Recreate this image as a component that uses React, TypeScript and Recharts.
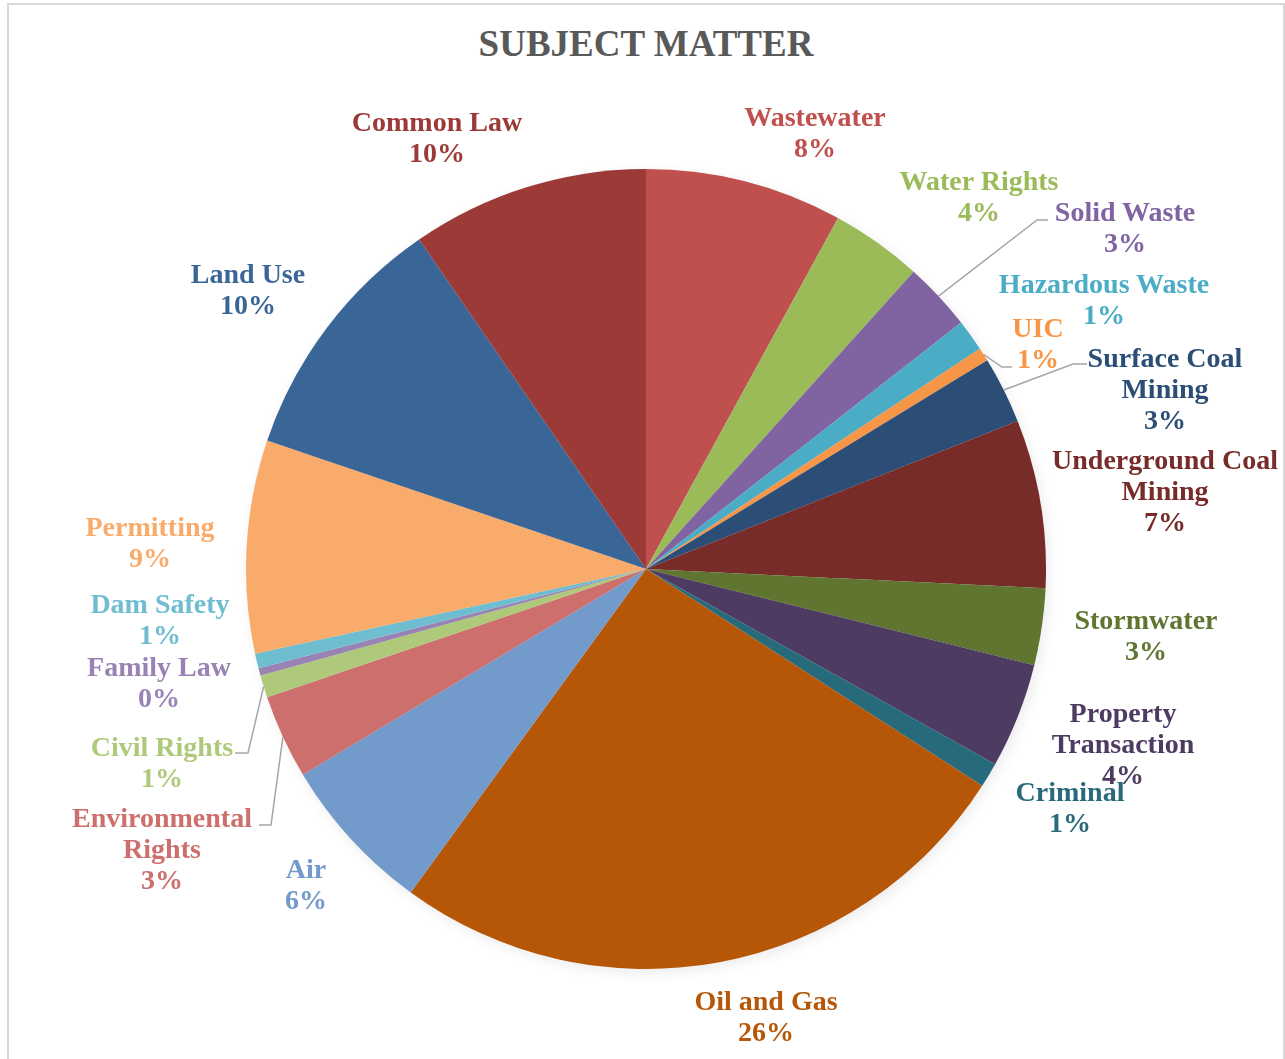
import { PieChart, Pie, Cell } from "recharts";

const categories = [
    "Wastewater",
    "Water Rights",
    "Solid Waste",
    "Hazardous Waste",
    "UIC",
    "Surface Coal Mining",
    "Underground Coal Mining",
    "Stormwater",
    "Property Transaction",
    "Criminal",
    "Oil and Gas",
    "Air",
    "Environmental Rights",
    "Civil Rights",
    "Family Law",
    "Dam Safety",
    "Permitting",
    "Land Use",
    "Common Law",
];

// share of cases, in percent
const shares = [
    7.97, 3.7, 2.77, 1.28, 0.55, 2.7, 6.8, 3.1, 4.25, 1.0,
    25.9, 6.4, 3.4, 0.9, 0.3, 0.6, 8.6, 10.2, 9.6,
];

const sliceColors = [
    "#C0504D", "#9BBB59", "#8064A2", "#4BACC6", "#F79646",
    "#2C4D75", "#772C2A", "#5F7530", "#4D3B62", "#276A7C",
    "#B65708", "#729ACA", "#CD6F6C", "#AFC97A", "#9983B5",
    "#6FBDD1", "#F9AB6B", "#3A6597", "#9C3A38",
];

const data = categories.map((name, i) => ({ name, value: shares[i] }));

// label placement relative to the pie centre; lines are the wrapped label text
type LabelSpot = {
    dx: number;
    dy: number;
    lines: string[];
    elbow?: [number, number, number];
};

const labelSpots: Record<string, LabelSpot> = {
    "Wastewater": { dx: 169, dy: -453, lines: ["Wastewater"] },
    "Water Rights": { dx: 333, dy: -389, lines: ["Water Rights"] },
    "Solid Waste": { dx: 479, dy: -358, lines: ["Solid Waste"], elbow: [391, -349, 402] },
    "Hazardous Waste": { dx: 458, dy: -286, lines: ["Hazardous Waste"] },
    "UIC": { dx: 392, dy: -242, lines: ["UIC"], elbow: [356, -202, 366] },
    "Surface Coal Mining": { dx: 519, dy: -212, lines: ["Surface Coal", "Mining"], elbow: [427, -205, 441] },
    "Underground Coal Mining": { dx: 519, dy: -110, lines: ["Underground Coal", "Mining"] },
    "Stormwater": { dx: 500, dy: 50, lines: ["Stormwater"] },
    "Property Transaction": { dx: 477, dy: 143, lines: ["Property", "Transaction"] },
    "Criminal": { dx: 424, dy: 222, lines: ["Criminal"] },
    "Oil and Gas": { dx: 120, dy: 431, lines: ["Oil and Gas"] },
    "Air": { dx: -340, dy: 299, lines: ["Air"] },
    "Environmental Rights": { dx: -484, dy: 248, lines: ["Environmental", "Rights"], elbow: [-375, 256, -387] },
    "Civil Rights": { dx: -484, dy: 177, lines: ["Civil Rights"], elbow: [-398, 184, -411] },
    "Family Law": { dx: -487, dy: 97, lines: ["Family Law"] },
    "Dam Safety": { dx: -486, dy: 34, lines: ["Dam Safety"] },
    "Permitting": { dx: -496, dy: -43, lines: ["Permitting"] },
    "Land Use": { dx: -398, dy: -296, lines: ["Land Use"] },
    "Common Law": { dx: -209, dy: -448, lines: ["Common Law"] },
};

const FONT = "'Liberation Serif', 'Times New Roman', serif";
const RAD = Math.PI / 180;

function renderLabel(props: any) {
    const { cx, cy, midAngle, outerRadius, percent, name, index } = props;
    const spot = labelSpots[name];
    if (!spot) return null;
    const color = sliceColors[index];
    const x = cx + spot.dx;
    const y = cy + spot.dy;
    const rows = [...spot.lines, `${Math.round(percent * 100)}%`];

    let leader = null;
    if (spot.elbow) {
        const sx = cx + outerRadius * Math.cos(-midAngle * RAD);
        const sy = cy + outerRadius * Math.sin(-midAngle * RAD);
        const [ex, ey, hx] = spot.elbow;
        leader = (
            <polyline
                points={`${sx},${sy} ${cx + ex},${cy + ey} ${cx + hx},${cy + ey}`}
                fill="none"
                stroke="#a6a6a6"
                strokeWidth={1.5}
            />
        );
    }

    return (
        <g key={`label-${name}`}>
            {leader}
            {rows.map((row, i) => (
                <text
                    key={i}
                    x={x}
                    y={y + i * 31}
                    textAnchor="middle"
                    dominantBaseline="central"
                    fill={color}
                    fontFamily={FONT}
                    fontWeight="bold"
                    fontSize={28}
                >
                    {row}
                </text>
            ))}
        </g>
    );
}

export default function App() {

    return (

        <div style={{ position: "absolute", left: 0, top: 0, width: 1285, height: 1059, background: "#fff" }}>

            <style>{`.pie-shadow { filter: blur(5px); opacity: 0.28; }`}</style>

            <div
                style={{
                    position: "absolute",
                    left: 7,
                    top: 3,
                    width: 1278,
                    height: 1056,
                    boxSizing: "border-box",
                    border: "2px solid #d9d9d9",
                    borderBottom: "none",
                }}
            />

            <div
                style={{
                    position: "absolute",
                    left: 346,
                    top: 25,
                    width: 600,
                    textAlign: "center",
                    fontFamily: FONT,
                    fontWeight: "bold",
                    fontSize: 37,
                    lineHeight: "37px",
                    color: "#595959",
                }}
            >
                SUBJECT MATTER
            </div>

            <div style={{ position: "absolute", left: 0, top: 0 }}>

                <PieChart width={1285} height={1059} margin={{ top: 0, right: 0, bottom: 0, left: 0 }}>

                    <Pie
                        className="pie-shadow"
                        data={data}
                        dataKey="value"
                        nameKey="name"
                        cx={649}
                        cy={573}
                        outerRadius={400}
                        startAngle={90}
                        endAngle={-270}
                        fill="#000"
                        stroke="none"
                        label={false}
                        labelLine={false}
                        isAnimationActive={false}
                    />

                    <Pie
                        data={data}
                        dataKey="value"
                        nameKey="name"
                        cx={646}
                        cy={569}
                        outerRadius={400}
                        startAngle={90}
                        endAngle={-270}
                        stroke="none"
                        label={renderLabel}
                        labelLine={false}
                        isAnimationActive={false}
                    >
                        {data.map((d, i) => (
                            <Cell key={d.name} fill={sliceColors[i]} />
                        ))}
                    </Pie>

                </PieChart>

            </div>

        </div>

    );

}
